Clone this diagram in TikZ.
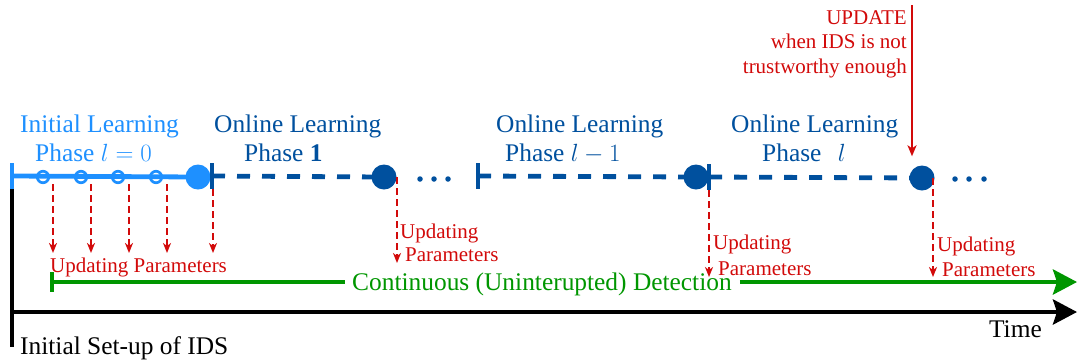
\documentclass[tikz,border=0pt]{standalone}
\usepackage{fontspec}
\setmainfont{Liberation Serif}
\usetikzlibrary{arrows.meta}
\definecolor{lblue}{RGB}{30,144,255}
\definecolor{dblue}{RGB}{0,80,158}
\definecolor{ured}{RGB}{210,10,10}
\definecolor{ugreen}{RGB}{0,150,0}
\begin{document}
\begin{tikzpicture}[x=1pt,y=-1pt,
  bigtxt/.style={font=\fontsize{25.4}{28}\selectfont,inner sep=0pt},
  smalltxt/.style={font=\fontsize{21}{24}\selectfont,text=ured,inner sep=0pt,anchor=base west},
  bigdot/.style={circle,inner sep=0pt,minimum size=25pt},
  ring/.style={circle,draw=lblue,line width=2.7pt,inner sep=0pt,minimum size=11.5pt},
  tickmark/.style={rectangle,inner sep=0pt,minimum width=4pt,minimum height=26pt},
  phaseline/.style={dblue,line width=4.8pt,dash pattern=on 13pt off 12pt},
  upd/.style={ured,line width=2pt,dash pattern=on 7pt off 4pt,-{Stealth[length=10pt,width=8pt,inset=3pt]}},
  axisline/.style={line width=4.5pt,-{Stealth[length=24pt,width=25pt,inset=4pt]}},
  smalldot/.style={circle,fill=dblue,inner sep=0pt,minimum size=5.5pt},
]
\useasboundingbox (0,0) rectangle (1078,360);

% ---- ticks and circles (positions)
\node[tickmark,fill=lblue] (t0) at (12,176) {};
\node[tickmark,fill=dblue] (t1) at (212,176) {};
\node[tickmark,fill=dblue] (t2) at (478,176) {};
\node[tickmark,fill=dblue] (t3) at (709,177) {};
\coordinate (c0pos) at (198,177);
\coordinate (c1pos) at (384,177);
\coordinate (c2pos) at (696,177);
\coordinate (c3pos) at (922,178);

% ---- lines on the learning timeline
\draw[lblue,line width=4.8pt] (t0.center) -- (c0pos);
\draw[phaseline] (t1.center) -- (c1pos);
\draw[phaseline] (t2.center) -- (c2pos);
\draw[phaseline] (t3.center) -- (c3pos);

\node[ring] (r1) at (43,177) {};
\node[ring] (r2) at (81,177) {};
\node[ring] (r3) at (118,177) {};
\node[ring] (r4) at (156,177) {};
\node[bigdot,fill=lblue] (c0) at (c0pos) {};
\node[bigdot,fill=dblue] (c1) at (c1pos) {};
\node[bigdot,fill=dblue] (c2) at (c2pos) {};
\node[bigdot,fill=dblue] (c3) at (c3pos) {};
\node[tickmark,fill=lblue] at (t0) {};
\node[tickmark,fill=dblue] at (t1) {};
\node[tickmark,fill=dblue] at (t2) {};
\node[tickmark,fill=dblue] at (t3) {};

% dots
\node[smalldot] (d1) at (420,179) {};
\node[smalldot] (d2) at (434,179) {};
\node[smalldot] (d3) at (448,179) {};
\node[smalldot] (d4) at (955,179) {};
\node[smalldot] (d5) at (969,179) {};
\node[smalldot] (d6) at (984,179) {};

% ---- phase labels
\node[bigtxt,text=lblue,anchor=base west] (p0a) at (20,132) {Initial Learning};
\node[bigtxt,text=lblue,anchor=base west] (p0b) at (35,161) {Phase $l=0$};
\node[bigtxt,text=dblue,anchor=base west] (p1a) at (214,132) {Online Learning};
\node[bigtxt,text=dblue,anchor=base west] (p1b) at (244,161) {Phase $\mathbf{1}$};
\node[bigtxt,text=dblue,anchor=base west] (p2a) at (496,132) {Online Learning};
\node[bigtxt,text=dblue,anchor=base west] (p2b) at (505,161) {Phase $l-1$};
\node[bigtxt,text=dblue,anchor=base west] (p3a) at (731,132) {Online Learning};
\node[bigtxt,text=dblue,anchor=base west] (p3b) at (762,161) {Phase\hspace{10pt} $l$};

% ---- green detection line
\node[tickmark,fill=ugreen,minimum width=4pt,minimum height=20pt] (gt) at (52,282) {};
\node[bigtxt,text=ugreen,anchor=base west] (gtext) at (352,290) {Continuous (Uninterupted) Detection};
\coordinate (gend) at (1077,282);
\draw[ugreen,line width=4.5pt] (gt.center) -- ([xshift=-7pt]gtext.west |- gt);
\draw[ugreen,axisline] ([xshift=8pt]gtext.east |- gt) -- (gend);

% ---- time axis
\coordinate (setup) at (12,347);
\coordinate (origin) at (12,312);
\coordinate (tend) at (1077,312);
\draw[black,line width=3.5pt] (t0.south) -- (setup);
\draw[black,axisline] (origin) -- (tend);
\node[bigtxt,anchor=base east] (time) at (1042,337) {Time};
\node[bigtxt,anchor=base west] (setuptxt) at (20,354) {Initial Set-up of IDS};

% ---- updating arrows
\coordinate (u1) at (53,253);
\coordinate (u2) at (91,253);
\coordinate (u3) at (129,253);
\coordinate (u4) at (167,253);
\coordinate (u5) at (213,253);
\coordinate (u6) at (397,263);
\coordinate (u7) at (709,277);
\coordinate (u8) at (933,277);
\draw[upd] (u1 |- r1.south) -- (u1);
\draw[upd] (u2 |- r2.south) -- (u2);
\draw[upd] (u3 |- r3.south) -- (u3);
\draw[upd] (u4 |- r4.south) -- (u4);
\draw[upd] (u5 |- t1.south) -- (u5);
\draw[upd] (u6 |- c1.center) -- (u6);
\draw[upd] (u7 |- t3.south) -- (u7);
\draw[upd] (u8 |- c3.center) -- (u8);

\node[smalltxt] (l0) at (50,272) {Updating Parameters};
\node[smalltxt] (l1a) at (400,238) {Updating};
\node[smalltxt] (l1b) at (405,261) {Parameters};
\node[smalltxt] (l2a) at (713,249) {Updating};
\node[smalltxt] (l2b) at (718,275) {Parameters};
\node[smalltxt] (l3a) at (937,251) {Updating};
\node[smalltxt] (l3b) at (942,276) {Parameters};

% ---- UPDATE arrow
\coordinate (upsrc) at (912,5);
\draw[ured,line width=2pt,-{Stealth[length=11pt,width=9pt,inset=3pt]}] (upsrc) -- ([yshift=9pt]upsrc |- c3.north);
\node[smalltxt,anchor=base east] (up1) at (907,24) {UPDATE};
\node[smalltxt,anchor=base east] (up2) at (907,48) {when IDS is not};
\node[smalltxt,anchor=base east] (up3) at (907,73) {trustworthy enough};
\end{tikzpicture}
\end{document}
